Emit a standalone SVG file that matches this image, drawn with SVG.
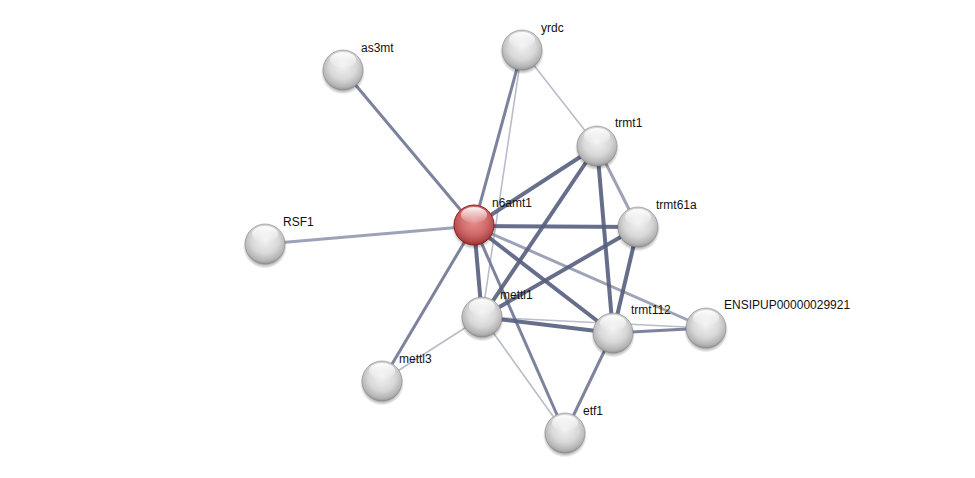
<svg xmlns="http://www.w3.org/2000/svg" width="975" height="478" viewBox="0 0 975 478">
<defs>
<radialGradient id="gw" cx="0.5" cy="0.4" r="0.62">
<stop offset="0" stop-color="#f2f2f2"/>
<stop offset="0.55" stop-color="#d8d8d8"/>
<stop offset="0.85" stop-color="#b4b4b4"/>
<stop offset="1" stop-color="#8a8a8a"/>
</radialGradient>
<radialGradient id="gr" cx="0.5" cy="0.4" r="0.62">
<stop offset="0" stop-color="#e89090"/>
<stop offset="0.55" stop-color="#d06a6a"/>
<stop offset="0.85" stop-color="#b04848"/>
<stop offset="1" stop-color="#802828"/>
</radialGradient>
<linearGradient id="hl" x1="0" y1="0" x2="0" y2="1">
<stop offset="0" stop-color="#ffffff" stop-opacity="0.95"/>
<stop offset="1" stop-color="#ffffff" stop-opacity="0.05"/>
</linearGradient>
<radialGradient id="sh" cx="0.5" cy="0.5" r="0.5">
<stop offset="0.75" stop-color="#000" stop-opacity="0.4"/>
<stop offset="1" stop-color="#000" stop-opacity="0"/>
</radialGradient>
<g id="wn">
<circle cx="0" cy="2.5" r="22" fill="url(#sh)"/>
<circle r="20" fill="url(#gw)" stroke="#8a8a8a" stroke-width="0.6"/>
<ellipse cx="0" cy="-10" rx="13" ry="8" fill="url(#hl)"/>
</g>
<g id="rn">
<circle cx="0" cy="2.5" r="22" fill="url(#sh)"/>
<circle r="20" fill="url(#gr)" stroke="#9a2020" stroke-width="1"/>
<ellipse cx="0" cy="-10" rx="13" ry="8" fill="url(#hl)"/>
</g>
</defs>
<style>
.t{stroke:#575e7e;stroke-width:4;stroke-opacity:0.9}
.m{stroke:#6f7592;stroke-width:3;stroke-opacity:0.9}
.ml{stroke:#8d92aa;stroke-width:3;stroke-opacity:0.85}
.l{stroke:#b8bccb;stroke-width:1.6}
text{font-family:"Liberation Sans",Arial,sans-serif;font-size:12px;fill:#111}
</style>
<rect width="975" height="478" fill="#ffffff"/>
<g id="edges" fill="none" stroke-linecap="round">
<line class="l" x1="522" y1="50" x2="597" y2="146"/>
<line class="l" x1="522" y1="50" x2="482" y2="317"/>
<line class="l" x1="482" y1="317" x2="382" y2="381"/>
<line class="l" x1="482" y1="317" x2="565" y2="433"/>
<line class="l" x1="482" y1="317" x2="706" y2="328"/>
<line class="m" x1="474" y1="226" x2="343" y2="70"/>
<line class="ml" x1="474" y1="226" x2="265" y2="244"/>
<line class="m" x1="474" y1="226" x2="522" y2="50"/>
<line class="m" x1="474" y1="226" x2="382" y2="381"/>
<line class="m" x1="474" y1="226" x2="565" y2="433"/>
<line class="ml" x1="474" y1="226" x2="706" y2="328"/>
<line class="ml" x1="597" y1="146" x2="638" y2="227"/>
<line class="m" x1="613" y1="333" x2="565" y2="433"/>
<line class="m" x1="613" y1="333" x2="706" y2="328"/>
<line class="t" x1="474" y1="226" x2="597" y2="146"/>
<line class="t" x1="474" y1="226" x2="638" y2="227"/>
<line class="t" x1="474" y1="226" x2="613" y2="333"/>
<line class="t" x1="474" y1="226" x2="482" y2="317"/>
<line class="t" x1="597" y1="146" x2="482" y2="317"/>
<line class="t" x1="597" y1="146" x2="613" y2="333"/>
<line class="t" x1="638" y1="227" x2="613" y2="333"/>
<line class="t" x1="638" y1="227" x2="482" y2="317"/>
<line class="t" x1="482" y1="317" x2="613" y2="333"/>
</g>
<g id="n-as3mt"><use href="#wn" x="343" y="70"/><text x="361" y="52">as3mt</text></g>
<g id="n-yrdc"><use href="#wn" x="522" y="50"/><text x="541" y="32">yrdc</text></g>
<g id="n-trmt1"><use href="#wn" x="597" y="146"/><text x="615" y="127">trmt1</text></g>
<g id="n-trmt61a"><use href="#wn" x="638" y="227"/><text x="656" y="209">trmt61a</text></g>
<g id="n-RSF1"><use href="#wn" x="265" y="244"/><text x="283" y="226">RSF1</text></g>
<g id="n-mettl1"><use href="#wn" x="482" y="317"/><text x="500" y="299">mettl1</text></g>
<g id="n-trmt112"><use href="#wn" x="613" y="333"/><text x="631" y="314">trmt112</text></g>
<g id="n-ENSIPUP00000029921"><use href="#wn" x="706" y="328"/><text x="724" y="309">ENSIPUP00000029921</text></g>
<g id="n-mettl3"><use href="#wn" x="382" y="381"/><text x="399" y="363">mettl3</text></g>
<g id="n-etf1"><use href="#wn" x="565" y="433"/><text x="583" y="415">etf1</text></g>
<g id="n-n6amt1"><use href="#rn" x="474" y="225"/><text x="492" y="207">n6amt1</text></g>
</svg>
